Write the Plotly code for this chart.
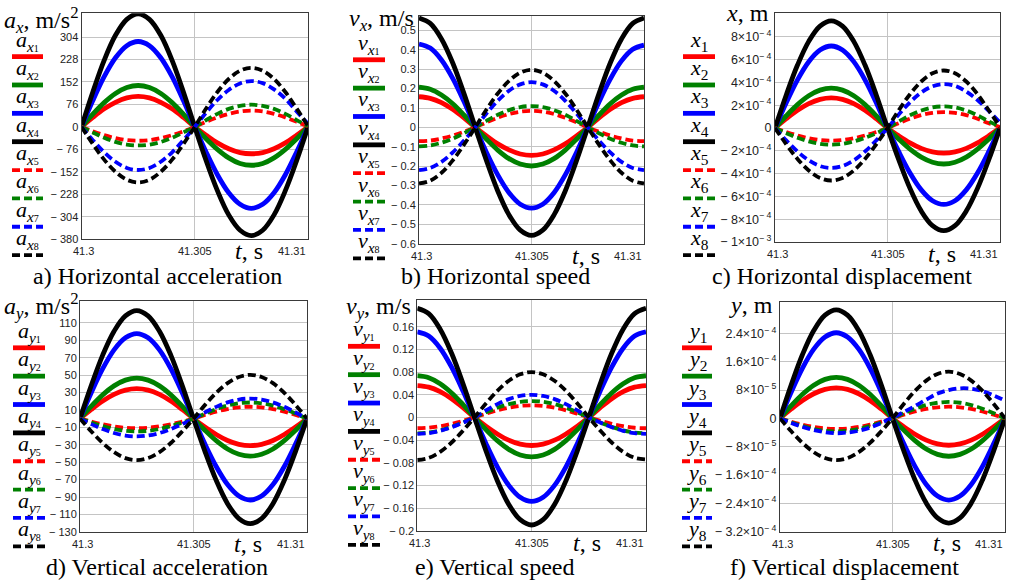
import plotly.graph_objects as go

# ---------------- data ----------------
t = [41.3000, 41.3005, 41.3010, 41.3015, 41.3020, 41.3025, 41.3030, 41.3035, 41.3040, 41.3045, 41.3050,
     41.3055, 41.3060, 41.3065, 41.3070, 41.3075, 41.3080, 41.3085, 41.3090, 41.3095, 41.3100]

# a) horizontal acceleration, m/s^2  (series 1..8)
ax_series = [
    [0, 32, 61, 83, 98, 103, 98, 83, 61, 32, 0, -28, -54, -74, -87, -91, -87, -74, -54, -28, 0],
    [0, 43, 82, 113, 133, 140, 133, 113, 82, 43, 0, -40, -76, -105, -124, -130, -124, -105, -76, -40, 0],
    [0, 89, 170, 234, 275, 289, 275, 234, 170, 89, 0, -85, -162, -223, -262, -276, -262, -223, -162, -85, 0],
    [0, 118, 225, 310, 364, 383, 364, 310, 225, 118, 0, -114, -216, -298, -350, -368, -350, -298, -216, -114, 0],
    [0, -15, -28, -38, -45, -47, -45, -38, -28, -15, 0, 17, 32, 44, 52, 55, 52, 44, 32, 17, 2],
    [0, -19, -37, -51, -60, -63, -60, -51, -37, -19, 0, 23, 44, 61, 71, 75, 71, 61, 44, 23, 3],
    [0, -45, -86, -118, -139, -146, -139, -118, -86, -45, 0, 48, 91, 125, 147, 155, 148, 127, 95, 52, 10],
    [0, -58, -111, -152, -179, -188, -179, -152, -111, -58, 0, 62, 118, 162, 190, 200, 190, 162, 118, 62, 3],
]
# b) horizontal speed, m/s
vx_series = [
    [0.158, 0.150, 0.128, 0.093, 0.049, 0, -0.044, -0.085, -0.116, -0.137, -0.144,
     -0.137, -0.116, -0.085, -0.044, 0, 0.049, 0.093, 0.128, 0.150, 0.158],
    [0.207, 0.197, 0.167, 0.122, 0.064, 0, -0.061, -0.117, -0.161, -0.189, -0.199,
     -0.189, -0.161, -0.117, -0.061, 0, 0.064, 0.122, 0.167, 0.197, 0.207],
    [0.430, 0.409, 0.348, 0.253, 0.133, 0, -0.129, -0.245, -0.337, -0.396, -0.416,
     -0.396, -0.337, -0.245, -0.129, 0, 0.131, 0.249, 0.343, 0.403, 0.424],
    [0.564, 0.536, 0.456, 0.332, 0.174, 0, -0.172, -0.328, -0.451, -0.530, -0.557,
     -0.530, -0.451, -0.328, -0.172, 0, 0.174, 0.332, 0.456, 0.536, 0.564],
    [-0.071, -0.068, -0.057, -0.042, -0.022, 0, 0.026, 0.050, 0.069, 0.081, 0.085,
     0.081, 0.069, 0.050, 0.026, 0, -0.022, -0.042, -0.057, -0.068, -0.071],
    [-0.098, -0.093, -0.079, -0.058, -0.030, 0, 0.034, 0.065, 0.089, 0.105, 0.110,
     0.105, 0.089, 0.065, 0.034, 0, -0.030, -0.058, -0.079, -0.093, -0.098],
    [-0.220, -0.209, -0.178, -0.129, -0.068, 0, 0.072, 0.137, 0.189, 0.222, 0.233,
     0.222, 0.189, 0.137, 0.072, 0, -0.068, -0.129, -0.178, -0.209, -0.220],
    [-0.289, -0.275, -0.234, -0.170, -0.089, 0, 0.092, 0.175, 0.240, 0.282, 0.297,
     0.282, 0.240, 0.175, 0.092, 0, -0.089, -0.170, -0.234, -0.275, -0.289],
]
# c) horizontal displacement, m
x_series = [
    [0, 0.819e-4, 1.558e-4, 2.144e-4, 2.520e-4, 2.65e-4, 2.520e-4, 2.144e-4, 1.558e-4, 0.819e-4, 0,
     -0.680e-4, -1.294e-4, -1.780e-4, -2.092e-4, -2.2e-4, -2.092e-4, -1.780e-4, -1.294e-4, -0.680e-4, 0],
    [0, 1.082e-4, 2.058e-4, 2.832e-4, 3.329e-4, 3.5e-4, 3.329e-4, 2.832e-4, 2.058e-4, 1.082e-4, 0,
     -0.973e-4, -1.852e-4, -2.548e-4, -2.996e-4, -3.15e-4, -2.996e-4, -2.548e-4, -1.852e-4, -0.973e-4, 0],
    [0, 2.225e-4, 4.234e-4, 5.825e-4, 6.847e-4, 7.2e-4, 6.847e-4, 5.825e-4, 4.234e-4, 2.225e-4, 0,
     -2.070e-4, -3.940e-4, -5.420e-4, -6.372e-4, -6.7e-4, -6.372e-4, -5.420e-4, -3.940e-4, -2.070e-4, 0],
    [0, 2.905e-4, 5.527e-4, 7.605e-4, 8.939e-4, 9.4e-4, 8.939e-4, 7.605e-4, 5.527e-4, 2.905e-4, 0,
     -2.781e-4, -5.292e-4, -7.281e-4, -8.559e-4, -9.0e-4, -8.559e-4, -7.281e-4, -5.292e-4, -2.781e-4, 0],
    [0, -0.340e-4, -0.647e-4, -0.890e-4, -1.046e-4, -1.1e-4, -1.046e-4, -0.890e-4, -0.647e-4, -0.340e-4, 0,
     0.433e-4, 0.823e-4, 1.133e-4, 1.331e-4, 1.4e-4, 1.331e-4, 1.133e-4, 0.823e-4, 0.433e-4, 0.1e-4],
    [0, -0.448e-4, -0.853e-4, -1.173e-4, -1.379e-4, -1.45e-4, -1.379e-4, -1.173e-4, -0.853e-4, -0.448e-4, 0,
     0.587e-4, 1.117e-4, 1.537e-4, 1.807e-4, 1.9e-4, 1.807e-4, 1.537e-4, 1.117e-4, 0.587e-4, 0.1e-4],
    [0, -1.082e-4, -2.058e-4, -2.832e-4, -3.329e-4, -3.5e-4, -3.329e-4, -2.832e-4, -2.058e-4, -1.082e-4, 0,
     1.190e-4, 2.264e-4, 3.115e-4, 3.661e-4, 3.85e-4, 3.70e-4, 3.20e-4, 2.45e-4, 1.50e-4, 0.5e-4],
    [0, -1.421e-4, -2.705e-4, -3.721e-4, -4.375e-4, -4.6e-4, -4.375e-4, -3.721e-4, -2.705e-4, -1.421e-4, 0,
     1.560e-4, 2.969e-4, 4.085e-4, 4.803e-4, 5.05e-4, 4.803e-4, 4.085e-4, 2.969e-4, 1.560e-4, 0.1e-4],
]
# d) vertical acceleration, m/s^2
ay_series = [
    [0, 10.6, 20.2, 27.8, 32.7, 34.4, 32.7, 27.8, 20.2, 10.6, 0, -9.6, -18.2, -25.1, -29.5, -31.0, -29.5, -25.1, -18.2, -9.6, 0],
    [0, 14.4, 27.3, 37.6, 44.2, 46.5, 44.2, 37.6, 27.3, 14.4, 0, -13.3, -25.3, -34.8, -40.9, -43.0, -40.9, -34.8, -25.3, -13.3, 0],
    [0, 30.1, 57.3, 78.9, 92.7, 97.5, 92.7, 78.9, 57.3, 30.1, 0, -28.9, -54.9, -75.6, -88.8, -93.4, -88.8, -75.6, -54.9, -28.9, 0],
    [0, 38.3, 72.9, 100.3, 117.9, 124.0, 117.9, 100.3, 72.9, 38.3, 0, -37.3, -70.9, -97.6, -114.7, -120.6, -114.7, -97.6, -70.9, -37.3, 0],
    [0, -3.4, -6.5, -8.9, -10.5, -11.0, -10.5, -8.9, -6.5, -3.4, 0, 4.2, 8.0, 11.0, 12.9, 13.6, 12.9, 11.0, 8.0, 4.2, 0],
    [0, -4.5, -8.6, -11.9, -14.0, -14.7, -14.0, -11.9, -8.6, -4.5, 0, 5.7, 10.9, 15.0, 17.6, 18.5, 17.6, 15.0, 10.9, 5.7, 0],
    [0, -6.3, -12.0, -16.5, -19.4, -20.4, -19.4, -16.5, -12.0, -6.3, 0, 7.1, 13.5, 18.6, 21.9, 23.0, 21.9, 18.6, 13.5, 7.1, 0],
    [0, -14.7, -28.0, -38.5, -45.3, -47.6, -45.3, -38.5, -28.0, -14.7, 0, 15.5, 29.6, 40.7, 47.8, 50.3, 47.8, 40.7, 29.6, 15.5, 0],
]
# e) vertical speed, m/s
vy_series = [
    [0.0563, 0.0535, 0.0455, 0.0331, 0.0174, 0, -0.0153, -0.0290, -0.0400, -0.0470, -0.0494,
     -0.0470, -0.0400, -0.0290, -0.0153, 0, 0.0174, 0.0331, 0.0455, 0.0535, 0.0563],
    [0.0736, 0.0700, 0.0595, 0.0433, 0.0227, 0, -0.0215, -0.0409, -0.0562, -0.0661, -0.0695,
     -0.0661, -0.0562, -0.0409, -0.0215, 0, 0.0227, 0.0433, 0.0595, 0.0700, 0.0736],
    [0.1510, 0.1436, 0.1222, 0.0888, 0.0467, 0, -0.0457, -0.0870, -0.1197, -0.1407, -0.1480,
     -0.1407, -0.1197, -0.0870, -0.0457, 0, 0.0467, 0.0888, 0.1222, 0.1436, 0.1510],
    [0.1925, 0.1831, 0.1557, 0.1132, 0.0595, 0, -0.0586, -0.1115, -0.1534, -0.1803, -0.1896,
     -0.1803, -0.1534, -0.1115, -0.0586, 0, 0.0595, 0.1132, 0.1557, 0.1831, 0.1925],
    [-0.0190, -0.0181, -0.0154, -0.0112, -0.0059, 0, 0.0066, 0.0126, 0.0173, 0.0204, 0.0214,
     0.0204, 0.0173, 0.0126, 0.0066, 0, -0.0059, -0.0112, -0.0154, -0.0181, -0.0190],
    [-0.0280, -0.0266, -0.0227, -0.0165, -0.0087, 0, 0.0090, 0.0171, 0.0235, 0.0276, 0.0290,
     0.0276, 0.0235, 0.0171, 0.0090, 0, -0.0087, -0.0165, -0.0227, -0.0266, -0.0280],
    [-0.0290, -0.0276, -0.0235, -0.0171, -0.0090, 0, 0.0124, 0.0235, 0.0324, 0.0380, 0.0400,
     0.0380, 0.0324, 0.0235, 0.0124, 0, -0.0090, -0.0171, -0.0235, -0.0276, -0.0290],
    [-0.0750, -0.0713, -0.0607, -0.0441, -0.0232, 0, 0.0247, 0.0470, 0.0647, 0.0761, 0.0800,
     0.0761, 0.0647, 0.0470, 0.0247, 0, -0.0232, -0.0441, -0.0607, -0.0710, -0.0740],
]
# f) vertical displacement, m
y_series = [
    [0, 2.66e-5, 5.06e-5, 6.96e-5, 8.18e-5, 8.6e-5, 8.18e-5, 6.96e-5, 5.06e-5, 2.66e-5, 0,
     -2.35e-5, -4.47e-5, -6.15e-5, -7.23e-5, -7.6e-5, -7.23e-5, -6.15e-5, -4.47e-5, -2.35e-5, 0],
    [0, 3.58e-5, 6.82e-5, 9.38e-5, 11.03e-5, 11.6e-5, 11.03e-5, 9.38e-5, 6.82e-5, 3.58e-5, 0,
     -3.31e-5, -6.29e-5, -8.66e-5, -10.18e-5, -10.7e-5, -10.18e-5, -8.66e-5, -6.29e-5, -3.31e-5, 0],
    [0, 7.48e-5, 14.23e-5, 19.58e-5, 23.01e-5, 24.2e-5, 23.01e-5, 19.58e-5, 14.23e-5, 7.48e-5, 0,
     -7.14e-5, -13.58e-5, -18.69e-5, -21.97e-5, -23.1e-5, -21.97e-5, -18.69e-5, -13.58e-5, -7.14e-5, 0],
    [0, 9.49e-5, 18.05e-5, 24.84e-5, 29.20e-5, 30.7e-5, 29.20e-5, 24.84e-5, 18.05e-5, 9.49e-5, 0,
     -9.15e-5, -17.40e-5, -23.95e-5, -28.15e-5, -29.6e-5, -28.15e-5, -23.95e-5, -17.40e-5, -9.15e-5, 0],
    [0, -0.93e-5, -1.76e-5, -2.43e-5, -2.85e-5, -3.0e-5, -2.85e-5, -2.43e-5, -1.76e-5, -0.93e-5, 0,
     1.02e-5, 1.94e-5, 2.67e-5, 3.14e-5, 3.3e-5, 3.14e-5, 2.67e-5, 1.94e-5, 1.02e-5, 0],
    [0, -1.14e-5, -2.18e-5, -2.99e-5, -3.52e-5, -3.7e-5, -3.52e-5, -2.99e-5, -2.18e-5, -1.14e-5, 0,
     1.44e-5, 2.73e-5, 3.76e-5, 4.42e-5, 4.65e-5, 4.42e-5, 3.76e-5, 2.73e-5, 1.44e-5, 0],
    [0, -1.3e-5, -2.4e-5, -3.3e-5, -3.9e-5, -4.2e-5, -4.0e-5, -3.5e-5, -2.6e-5, -1.3e-5, 0.2e-5,
     1.8e-5, 3.5e-5, 5.3e-5, 7.0e-5, 8.0e-5, 8.5e-5, 8.4e-5, 7.7e-5, 6.5e-5, 5.0e-5],
    [0, -3.65e-5, -6.94e-5, -9.55e-5, -11.22e-5, -11.8e-5, -11.22e-5, -9.55e-5, -6.94e-5, -3.65e-5, 0,
     4.08e-5, 7.76e-5, 10.68e-5, 12.55e-5, 13.2e-5, 12.55e-5, 10.68e-5, 7.76e-5, 4.08e-5, 0],
]

x_ticks = [41.3, 41.305, 41.31]
x_tick_text = ["41.3", "41.305", "41.31"]

ax_ticks = [304, 228, 152, 76, 0, -76, -152, -228, -304, -380]
ax_text = ["304", "228", "152", "76", "0", "− 76", "− 152", "− 228", "− 304", "− 380"]
vx_ticks = [0.5, 0.4, 0.3, 0.2, 0.1, 0, -0.1, -0.2, -0.3, -0.4, -0.5, -0.6]
vx_text = ["0.5", "0.4", "0.3", "0.2", "0.1", "0", "− 0.1", "− 0.2", "− 0.3", "− 0.4", "− 0.5", "− 0.6"]
x_ticks_m = [8e-4, 6e-4, 4e-4, 2e-4, 0, -2e-4, -4e-4, -6e-4, -8e-4, -1e-3]
x_text_m = ["8×10<sup>− 4</sup>", "6×10<sup>− 4</sup>", "4×10<sup>− 4</sup>", "2×10<sup>− 4</sup>", "0",
            "− 2×10<sup>− 4</sup>", "− 4×10<sup>− 4</sup>", "− 6×10<sup>− 4</sup>", "− 8×10<sup>− 4</sup>",
            "− 1×10<sup>− 3</sup>"]
ay_ticks = [110, 90, 70, 50, 30, 10, -10, -30, -50, -70, -90, -110, -130]
ay_text = ["110", "90", "70", "50", "30", "10", "− 10", "− 30", "− 50", "− 70", "− 90", "− 110", "− 130"]
vy_ticks = [0.16, 0.12, 0.08, 0.04, 0, -0.04, -0.08, -0.12, -0.16, -0.2]
vy_text = ["0.16", "0.12", "0.08", "0.04", "0", "− 0.04", "− 0.08", "− 0.12", "− 0.16", "− 0.2"]
y_ticks_m = [2.4e-4, 1.6e-4, 8e-5, 0, -8e-5, -1.6e-4, -2.4e-4, -3.2e-4]
y_text_m = ["2.4×10<sup>− 4</sup>", "1.6×10<sup>− 4</sup>", "8×10<sup>− 5</sup>", "0",
            "− 8×10<sup>− 5</sup>", "− 1.6×10<sup>− 4</sup>", "− 2.4×10<sup>− 4</sup>", "− 3.2×10<sup>− 4</sup>"]

# ---------------- layout / style ----------------
W, H = 1015, 587
SERIF = "Liberation Serif, Times New Roman, serif"
SANS = "Liberation Sans, Arial, sans-serif"
colors = ["#ff0000", "#008000", "#0000ff", "#000000"] * 2
SOLID_W, DASH_W, DASH = 4.8, 3.8, "8px,4px"
SUBSUB = "<span style='font-size:10px'>{}</span>"

def fx(px):
    return px / W

def fy(py):
    return 1 - py / H

panels = [
    dict(series=ax_series, ticks=ax_ticks, text=ax_text, yr=[-380, 385], tfs=11,
         xs=(81.5, 308), ys=(13.3, 242),
         title="<i>a</i><sub><i>x</i></sub>, m/s<sup>2</sup>", title_xy=(41, 20),
         leg="<i>a</i><sub><i>x</i>" + SUBSUB + "</sub>", leg_dy=2, leg_x=(12, 43), leg_y0=57.3,
         cap="a) Horizontal acceleration", cap_xy=(157, 279)),
    dict(series=vx_series, ticks=vx_ticks, text=vx_text, yr=[-0.6, 0.577], tfs=11,
         xs=(419, 644), ys=(15.7, 246.7),
         title="<i>v</i><sub><i>x</i></sub>, m/s", title_xy=(381, 20),
         leg="<i>v</i><sub><i>x</i>" + SUBSUB + "</sub>", leg_dy=2, leg_x=(353, 385), leg_y0=60.5,
         cap="b) Horizontal speed", cap_xy=(495, 279)),
    dict(series=x_series, ticks=x_ticks_m, text=x_text_m, yr=[-1e-3, 1.008e-3], tfs=12.5,
         xs=(775, 1000), ys=(13.3, 245),
         title="<i>x</i>, m", title_xy=(747, 13),
         leg="<i>x</i><sub>{}</sub>", leg_dy=2, leg_x=(683, 715), leg_y0=57.3,
         cap="c) Horizontal displacement", cap_xy=(842, 279)),
    dict(series=ay_series, ticks=ay_ticks, text=ay_text, yr=[-130, 134.6], tfs=11,
         xs=(80, 307), ys=(305, 538.3),
         title="<i>a</i><sub><i>y</i></sub>, m/s<sup>2</sup>", title_xy=(41, 310),
         leg="<i>a</i><sub><i>y</i>" + SUBSUB + "</sub>", leg_dy=2, leg_x=(13, 45), leg_y0=352,
         cap="d) Vertical acceleration", cap_xy=(157, 574)),
    dict(series=vy_series, ticks=vy_ticks, text=vy_text, yr=[-0.2, 0.2065], tfs=11,
         xs=(417.3, 646), ys=(304, 537.3),
         title="<i>v</i><sub><i>y</i></sub>, m/s", title_xy=(378, 312),
         leg="<i>v</i><sub><i>y</i>" + SUBSUB + "</sub>", leg_dy=2, leg_x=(348, 380), leg_y0=350.5,
         cap="e) Vertical speed", cap_xy=(494, 574)),
    dict(series=y_series, ticks=y_ticks_m, text=y_text_m, yr=[-3.2e-4, 3.28e-4], tfs=12.5,
         xs=(780, 1005), ys=(306, 538),
         title="<i>y</i>, m", title_xy=(751, 309),
         leg="<i>y</i><sub>{}</sub>", leg_dy=2, leg_x=(682, 712), leg_y0=352,
         cap="f) Vertical displacement", cap_xy=(844, 574)),
]
LEG_STEP = 28.7

fig = go.Figure()
layout = dict(width=W, height=H, margin=dict(l=0, r=0, t=0, b=0),
              paper_bgcolor="white", plot_bgcolor="white", showlegend=False)
annotations = []
shapes = []

for i, p in enumerate(panels):
    n = "" if i == 0 else str(i + 1)
    xa, ya = "x" + n, "y" + n
    for k, vals in enumerate(p["series"]):
        solid = k < 4
        fig.add_trace(go.Scatter(
            x=t, y=vals, xaxis=xa, yaxis=ya, mode="lines",
            line=dict(color=colors[k], width=SOLID_W if solid else DASH_W,
                      dash="solid" if solid else DASH, shape="spline"),
            hoverinfo="skip"))
    layout["xaxis" + n] = dict(
        domain=[fx(p["xs"][0]), fx(p["xs"][1])], anchor=ya, range=[41.3, 41.31],
        tickvals=[41.305], showticklabels=False, ticks="",
        showgrid=True, gridcolor="#c4c4c4", gridwidth=1, zeroline=False,
        showline=True, linecolor="#3a3a3a", linewidth=1, mirror=True, fixedrange=True)
    layout["yaxis" + n] = dict(
        domain=[fy(p["ys"][1]), fy(p["ys"][0])], anchor=xa, range=p["yr"],
        tickvals=p["ticks"], ticktext=p["text"], ticks="",
        tickfont=dict(family=SANS, size=p["tfs"], color="#222222"),
        showgrid=True, gridcolor="#c4c4c4", gridwidth=1, zeroline=False,
        showline=True, linecolor="#3a3a3a", linewidth=1, mirror=True, fixedrange=True)
    # x tick labels
    ybot = fy(p["ys"][1] + 12.5)
    for val, txt, anc, sh in zip(x_ticks, x_tick_text, ["center", "center", "right"], [2, 0, 0]):
        annotations.append(dict(x=val, y=ybot, xref=xa, yref="paper", text=txt, showarrow=False,
                                xanchor=anc, yanchor="middle", xshift=sh,
                                font=dict(family=SANS, size=11, color="#222222")))
    # t, s label
    annotations.append(dict(x=41.3074, y=fy(p["ys"][1] + 12), xref=xa, yref="paper",
                            text="<i>t</i>, s", showarrow=False, xanchor="center", yanchor="middle",
                            font=dict(family=SERIF, size=24, color="black")))
    # title
    annotations.append(dict(x=fx(p["title_xy"][0]), y=fy(p["title_xy"][1]), xref="paper", yref="paper",
                            text=p["title"], showarrow=False, xanchor="center", yanchor="middle",
                            font=dict(family=SERIF, size=24, color="black")))
    # caption
    annotations.append(dict(x=fx(p["cap_xy"][0]), y=fy(p["cap_xy"][1]), xref="paper", yref="paper",
                            text=p["cap"], showarrow=False, xanchor="center", yanchor="middle",
                            font=dict(family=SERIF, size=24, color="black")))
    # legend
    x0, x1 = p["leg_x"]
    for k in range(8):
        ly = p["leg_y0"] + k * LEG_STEP
        solid = k < 4
        shapes.append(dict(type="line", xref="paper", yref="paper",
                           x0=fx(x0), x1=fx(x1), y0=fy(ly), y1=fy(ly),
                           line=dict(color=colors[k], width=SOLID_W if solid else DASH_W,
                                     dash="solid" if solid else DASH)))
        annotations.append(dict(x=fx((x0 + x1) / 2), y=fy(ly - 2 + p["leg_dy"]), xref="paper", yref="paper",
                                text=p["leg"].format(k + 1), showarrow=False,
                                xanchor="center", yanchor="bottom",
                                font=dict(family=SERIF, size=22, color="black")))

layout["annotations"] = annotations
layout["shapes"] = shapes
fig.update_layout(**layout)
fig.write_html("out.html", config={"displayModeBar": False},
               post_script="document.body.style.margin='0';document.body.style.overflow='hidden';")
